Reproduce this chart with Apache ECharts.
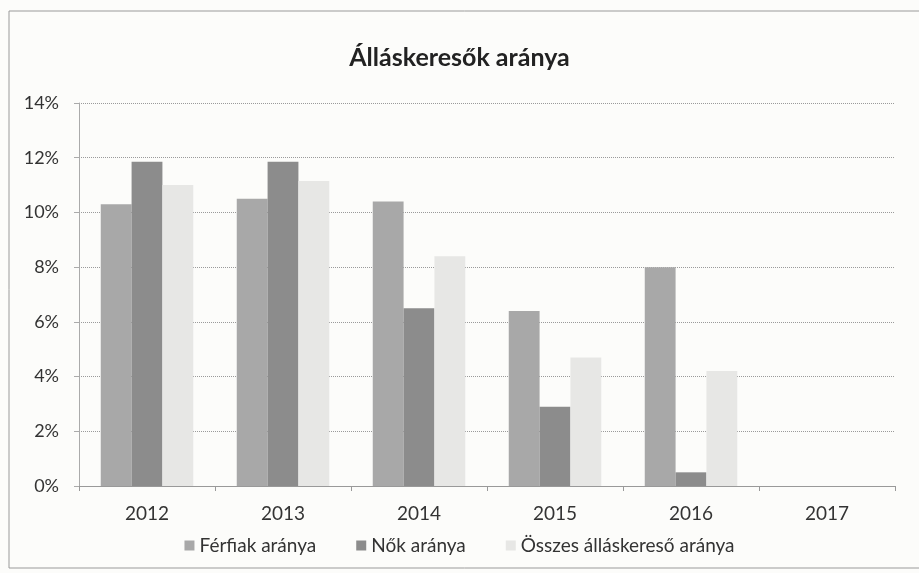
<!DOCTYPE html>
<html>
<head>
<meta charset="utf-8">
<script src="https://cdn.jsdelivr.net/npm/echarts@6/dist/echarts.min.js"></script>
<style>
html,body{margin:0;padding:0;background:#fcfcfa;}
#c{width:919px;height:573px;}
</style>
</head>
<body>
<div id="c"></div>
<script>
var categories = ['2012', '2013', '2014', '2015', '2016', '2017'];
var ferfiak = [10.3, 10.5, 10.4, 6.4, 8.0, null];
var nok = [11.85, 11.85, 6.5, 2.9, 0.5, null];
var osszes = [11.0, 11.15, 8.4, 4.7, 4.2, null];
var yTicks = [0, 2, 4, 6, 8, 10, 12, 14];
var seriesNames = ['Férfiak aránya', 'Nők aránya', 'Összes álláskereső aránya'];

var font = 'Lato, "Open Sans", sans-serif';
var chart = echarts.init(document.getElementById('c'));
chart.setOption({
  backgroundColor: '#fcfcfa',
  animation: false,
  title: {
    text: 'Álláskeresők aránya',
    left: 'center',
    top: 40,
    textStyle: {fontFamily: font, fontSize: 25, fontWeight: 'bold', color: '#222'}
  },
  graphic: [{
    type: 'rect', silent: true,
    shape: {x: 9, y: 11, width: 940, height: 557},
    style: {fill: 'none', stroke: '#9a9a9a', lineWidth: 1}
  }],
  legend: {
    data: seriesNames,
    top: 531,
    left: 'center',
    itemWidth: 10, itemHeight: 10, itemGap: 40,
    icon: 'rect',
    textStyle: {fontFamily: font, fontSize: 19, color: '#333'}
  },
  grid: {left: 79, right: 24, top: 103, bottom: 87, containLabel: false},
  xAxis: {
    type: 'category',
    data: categories,
    axisLine: {lineStyle: {color: '#999'}},
    axisTick: {show: true, length: 5, lineStyle: {color: '#999'}},
    axisLabel: {fontFamily: font, fontSize: 19, color: '#333', margin: 18}
  },
  yAxis: {
    type: 'value',
    min: yTicks[0], max: yTicks[yTicks.length - 1], interval: 2,
    axisLine: {show: true, lineStyle: {color: '#aaa'}},
    axisTick: {show: true, length: 5, lineStyle: {color: '#aaa'}},
    axisLabel: {fontFamily: font, fontSize: 18, color: '#333', margin: 20, formatter: '{value}%'},
    splitLine: {lineStyle: {color: '#9a9a9a', type: 'dotted', width: 1}}
  },
  series: [
    {name: seriesNames[0], type: 'bar', data: ferfiak, barGap: '0%', barCategoryGap: '32%', itemStyle: {color: '#a8a8a8'}},
    {name: seriesNames[1], type: 'bar', data: nok, barGap: '0%', barCategoryGap: '32%', itemStyle: {color: '#8c8c8c'}},
    {name: seriesNames[2], type: 'bar', data: osszes, barGap: '0%', barCategoryGap: '32%', itemStyle: {color: '#e7e7e5'}}
  ]
});
</script>
</body>
</html>
